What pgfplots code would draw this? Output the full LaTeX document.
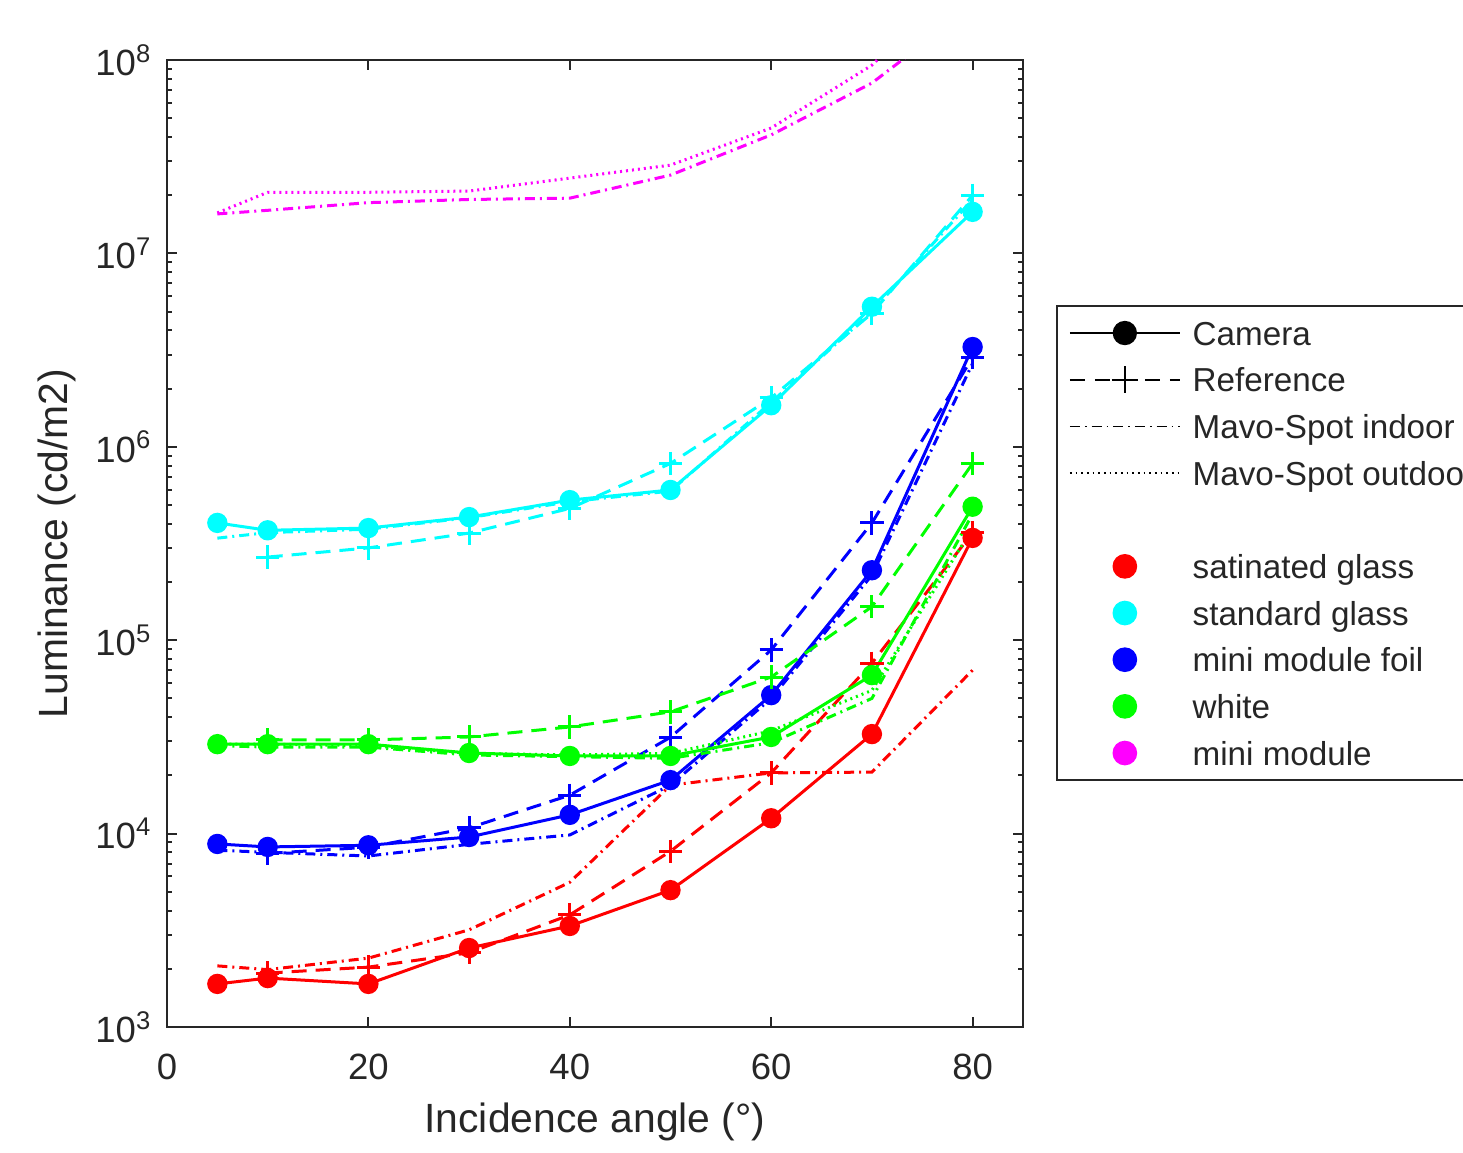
\documentclass[border=0pt]{standalone}
\usepackage{fontspec}
\setmainfont{Liberation Sans}
\usepackage{pgfplots}
\pgfplotsset{compat=1.18}
\definecolor{mred}{rgb}{1,0,0}
\definecolor{mcyan}{rgb}{0,1,1}
\definecolor{mblue}{rgb}{0,0,1}
\definecolor{mgreen}{rgb}{0,1,0}
\definecolor{mmag}{rgb}{1,0,1}

\begin{document}
\begin{tikzpicture}
% page = reference crop (1 px = 0.3 bp), axis box corner at the origin
\path (-50.1bp,-34.8bp) rectangle (388.8bp,308.1bp);
\begin{axis}[
  at={(0,0)}, anchor=south west,
  scale only axis,
  width=256.8bp, height=290.1bp,
  xmin=0, xmax=85,
  ymin=1e3, ymax=1e8,
  ymode=log,
  xtick={0,20,40,60,80},
  xticklabels={0,20,40,60,80},
  ytick={1e3,1e4,1e5,1e6,1e7,1e8},
  yticklabels={10\textsuperscript{3},10\textsuperscript{4},10\textsuperscript{5},10\textsuperscript{6},10\textsuperscript{7},10\textsuperscript{8}},
  tick align=inside,
  major tick length=3bp, minor tick length=1.6bp,
  axis line style={draw=black!85, line width=0.6bp},
  every tick/.style={draw=black!85, line width=0.6bp},
  tick label style={font=\fontsize{11}{13}\selectfont, text=black!85},
  xticklabel style={yshift=-4.5bp},
  yticklabel style={xshift=-1bp},
  xlabel={Incidence angle (°)},
  ylabel={Luminance (cd/m2)},
  label style={font=\fontsize{12.3}{14}\selectfont, text=black!85},
  xlabel style={at={(axis description cs:0.5,-0.0982)}, anchor=center},
  ylabel style={at={(axis description cs:-0.1285,0.5)}, anchor=center},
  legend image code/.code={\draw[mark repeat=2,mark phase=2,#1] plot coordinates {(0bp,0bp) (16.5bp,0bp) (33bp,0bp)};},
  legend cell align=left,
  legend style={overlay, at={(1.0386,0.7466)}, anchor=north west,
    draw=black!85, line width=0.6bp, fill=white,
    font=\fontsize{10}{12}\selectfont, text=black!85,
    inner xsep=3.6bp, inner ysep=3.1bp, row sep=4bp,
    nodes={inner sep=0pt, text height=8.6bp, text depth=1.4bp},
    /tikz/every odd column/.append style={column sep=3.6bp}},
  cam/.style={solid, line width=0.9bp, mark=*, mark size=2.6bp},
  ref/.style={dash pattern=on 4.5bp off 2.7bp, line width=0.9bp, mark=+, mark size=3.5bp, mark options={solid}},
  ind/.style={dash pattern=on 3bp off 1.5bp on 0.6bp off 1.5bp, line width=0.9bp, mark=none},
  out/.style={dash pattern=on 0.6bp off 1.2bp, line width=0.9bp, mark=none},
]

% legend entries
\addlegendimage{black, solid, line width=0.5bp, mark=*, mark size=3.4bp}
\addlegendentry{Camera}
\addlegendimage{black, dash pattern=on 4.5bp off 3bp, line width=0.5bp, mark=+, mark size=4bp, mark options={solid}}
\addlegendentry{Reference}
\addlegendimage{black, dash pattern=on 3bp off 1.5bp on 0.5bp off 1.5bp, line width=0.5bp}
\addlegendentry{Mavo-Spot indoor}
\addlegendimage{black, dash pattern=on 0.5bp off 1.2bp, line width=0.5bp}
\addlegendentry{Mavo-Spot outdoor}
\addlegendimage{empty legend}
\addlegendentry{}
\addlegendimage{legend image code/.code={\fill[mred] (16.5bp,0bp) circle (3.4bp);}}
\addlegendentry{satinated glass}
\addlegendimage{legend image code/.code={\fill[mcyan] (16.5bp,0bp) circle (3.4bp);}}
\addlegendentry{standard glass}
\addlegendimage{legend image code/.code={\fill[mblue] (16.5bp,0bp) circle (3.4bp);}}
\addlegendentry{mini module foil}
\addlegendimage{legend image code/.code={\fill[mgreen] (16.5bp,0bp) circle (3.4bp);}}
\addlegendentry{white}
\addlegendimage{legend image code/.code={\fill[mmag] (16.5bp,0bp) circle (3.4bp);}}
\addlegendentry{mini module}

% satinated glass (red)
\addplot[mred, cam, forget plot] coordinates {(5,1670) (10,1790) (20,1670) (30,2560) (40,3330) (50,5100) (60,12000) (70,32700) (80,338000)};
\addplot[mred, ref, forget plot] coordinates {(10,1900) (20,2040) (30,2420) (40,3800) (50,8100) (60,20600) (70,76000) (80,360000)};
\addplot[mred, ind, forget plot] coordinates {(5,2070) (10,1980) (20,2270) (30,3180) (40,5600) (50,17800) (60,20600) (70,20800) (80,70000)};

% standard glass (cyan)
\addplot[mcyan, cam, forget plot] coordinates {(5,404000) (10,370000) (20,380000) (30,433000) (40,530000) (50,598000) (60,1640000) (70,5300000) (80,16400000)};
\addplot[mcyan, ref, forget plot] coordinates {(10,269000) (20,300000) (30,358000) (40,480000) (50,820000) (60,1790000) (70,4900000) (80,20000000)};
\addplot[mcyan, ind, forget plot] coordinates {(5,337000) (10,360000) (20,375000) (30,430000) (40,520000) (50,590000) (60,1700000) (70,5000000) (80,19000000)};

% mini module foil (blue)
\addplot[mblue, cam, forget plot] coordinates {(5,8840) (10,8530) (20,8700) (30,9600) (40,12500) (50,18900) (60,52000) (70,230000) (80,3280000)};
\addplot[mblue, ref, forget plot] coordinates {(10,7900) (20,8500) (30,10700) (40,15800) (50,31500) (60,89000) (70,404000) (80,2900000)};
\addplot[mblue, ind, forget plot] coordinates {(5,8200) (10,8000) (20,7660) (30,8800) (40,9840) (50,17800) (60,50000) (70,217000) (80,2700000)};

% white (green)
\addplot[mgreen, cam, forget plot] coordinates {(5,29000) (10,29000) (20,29000) (30,26100) (40,25200) (50,25200) (60,31600) (70,66000) (80,490000)};
\addplot[mgreen, ref, forget plot] coordinates {(10,30500) (20,30500) (30,31600) (40,35600) (50,42600) (60,64500) (70,149000) (80,820000)};
\addplot[mgreen, ind, forget plot] coordinates {(5,28500) (10,28000) (20,28000) (30,25500) (40,25000) (50,24500) (60,29500) (70,50000) (80,450000)};
\addplot[mgreen, out, forget plot] coordinates {(5,29000) (10,29000) (20,28500) (30,26000) (40,25500) (50,26000) (60,34000) (70,55000) (80,380000)};

% mini module (magenta)
\addplot[mmag, ind, forget plot] coordinates {(5,16000000) (10,16700000) (20,18300000) (30,19000000) (40,19300000) (50,25400000) (60,41000000) (70,76000000) (80,190000000)};
\addplot[mmag, out, forget plot] coordinates {(5,16200000) (10,20700000) (20,20700000) (30,21000000) (40,24500000) (50,28600000) (60,44500000) (70,94000000) (80,300000000)};

\end{axis}
\end{tikzpicture}
\end{document}
